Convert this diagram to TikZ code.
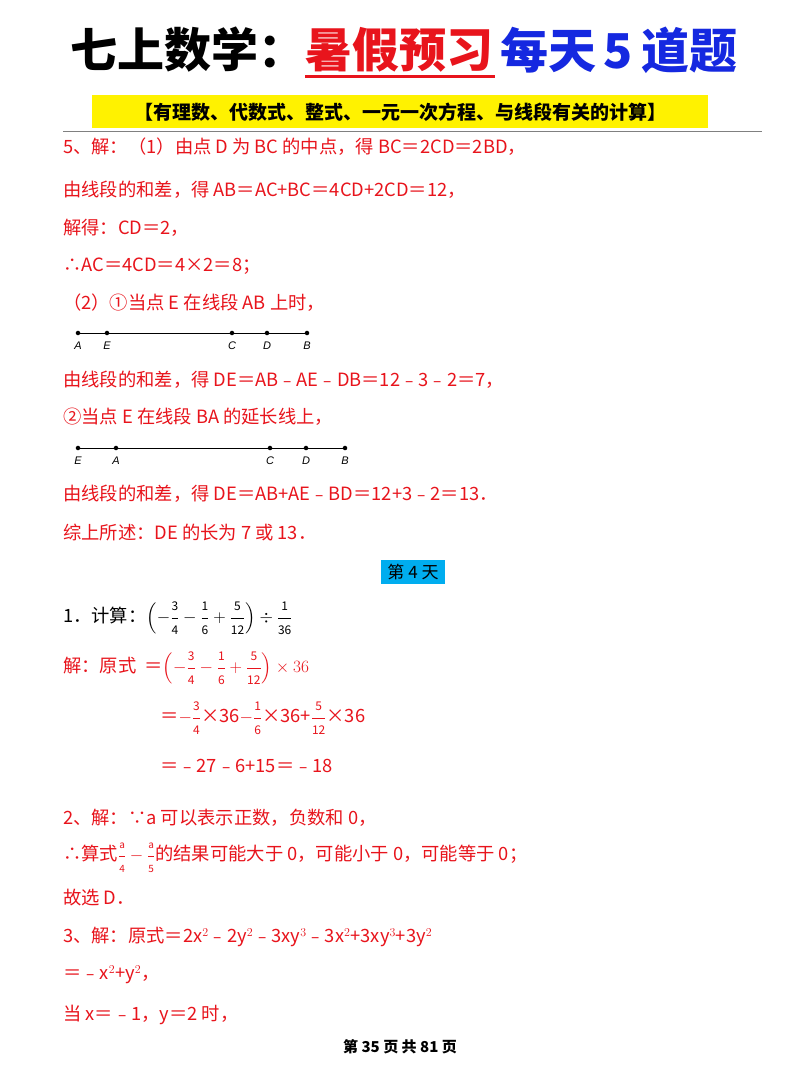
\documentclass[tikz,border=0pt]{standalone}
\usepackage{amsmath}
\usepackage{fontspec}
\setmainfont{Liberation Sans}
\newfontfamily\cjk{Noto Sans CJK SC}
\definecolor{rd}{HTML}{E8141C}
\definecolor{bl}{HTML}{1528E0}
\newcommand{\fr}[2]{\dfrac{\text{\fontsize{12}{13}\selectfont #1}}{\text{\fontsize{12}{13}\selectfont #2}}}
\newcommand{\frs}[2]{\dfrac{\text{\fontsize{10}{11}\selectfont #1}}{\text{\fontsize{10}{11}\selectfont #2}}}
\begin{document}
\begin{tikzpicture}[x=1pt,y=-1pt,
  t/.style={anchor=west,inner sep=0pt,text=rd,font=\cjk\fontsize{18.3}{20}\selectfont},
  lab/.style={inner sep=0pt,font=\fontsize{11}{12}\selectfont\itshape\rmfamily},
  dot/.style={circle,fill=black,inner sep=1.6pt}]
\useasboundingbox (0,0) rectangle (800,1067);
\fill[white] (0,0) rectangle (800,1067);
% title
\node[anchor=west,inner sep=0pt,font=\cjk\bfseries\fontsize{47}{50}\selectfont] (t1) at (70,50) {七上数学：};
\node[anchor=west,inner sep=0pt,text=rd,font=\cjk\bfseries\fontsize{47}{50}\selectfont] (t2) at (t1.east) {暑假预习};
\draw[rd,line width=2.5pt] (t2.south west)++(0,4) -- ++(190,0);
\node[anchor=west,inner sep=0pt,text=bl,font=\cjk\bfseries\fontsize{48}{50}\selectfont] (t3) at ([xshift=6pt]t2.east) {每天\,5\,道题};
\node[fill=yellow,minimum width=616,minimum height=33,inner sep=0pt,font=\cjk\bfseries\fontsize{19}{22}\selectfont] (sub) at (400,112) {【有理数、代数式、整式、一元一次方程、与线段有关的计算】};
\draw[gray,line width=0.8pt] (63,131) -- (762,131);
% text
\node[t] (l1) at (63,147) {5、解：（1）由点 D 为 BC 的中点，得 BC＝2CD＝2BD，};
\node[t] (l2) at (63,190) {由线段的和差，得 AB＝AC+BC＝4CD+2CD＝12，};
\node[t] (l3) at (63,228) {解得：CD＝2，};
\node[t] (l4) at (63,266) {∴AC＝4CD＝4×2＝8；};
\node[t] (l5) at (63,303) {（2）①当点 E 在线段 AB 上时，};
\foreach \n/\x in {A/78,E/107,C/232,D/267,B/307}{
  \node[dot] (s1\n) at (\x,333) {};
  \node[lab] at (\x,346) {\n};}
\draw[line width=0.6pt] (s1A) -- (s1B);
\node[t] (l6) at (63,380) {由线段的和差，得 DE＝AB﹣AE﹣DB＝12﹣3﹣2＝7，};
\node[t] (l7) at (63,417) {②当点 E 在线段 BA 的延长线上，};
\foreach \n/\x in {E/78,A/116,C/270,D/306,B/345}{
  \node[dot] (s2\n) at (\x,448) {};
  \node[lab] at (\x,461) {\n};}
\draw[line width=0.6pt] (s2E) -- (s2B);
\node[t] (l8) at (63,494) {由线段的和差，得 DE＝AB+AE﹣BD＝12+3﹣2＝13．};
\node[t] (l9) at (63,533) {综上所述：DE 的长为 7 或 13．};
\node[fill=cyan,minimum width=64,minimum height=24,inner sep=0pt,font=\cjk\fontsize{17}{20}\selectfont] (day) at (413,572) {第 4 天};
\node[t,text=black] (q1) at (63,618) {1．计算：$\left(-\fr{3}{4}-\fr{1}{6}+\fr{5}{12}\right)\div\fr{1}{36}$};
\node[t] (a1) at (63,668) {解：原式 \ ＝$\left(-\fr{3}{4}-\fr{1}{6}+\fr{5}{12}\right)\times 36$};
\node[t] (a2) at (160,718) {＝$-\fr{3}{4}$×36$-\fr{1}{6}$×36+$\fr{5}{12}$×36};
\node[t] (a3) at (160,766) {＝﹣27﹣6+15＝﹣18};
\node[t] (b1) at (63,818) {2、解：∵a 可以表示正数，负数和 0，};
\node[t] (b2) at (63,858) {∴算式$\frs{a}{4}-\frs{a}{5}$的结果可能大于 0，可能小于 0，可能等于 0；};
\node[t] (b3) at (63,898) {故选 D．};
\node[t] (c1) at (63,937) {3、解：原式＝2x$^2$﹣2y$^2$﹣3xy$^3$﹣3x$^2$+3xy$^3$+3y$^2$};
\node[t] (c2) at (63,975) {＝﹣x$^2$+y$^2$，};
\node[t] (c3) at (63,1015) {当 x＝﹣1，y＝2 时，};
\node[inner sep=0pt,font=\cjk\bfseries\fontsize{15}{18}\selectfont] (ft) at (400,1047) {第\ 35\ 页\ 共\ 81\ 页};
\end{tikzpicture}
\end{document}
